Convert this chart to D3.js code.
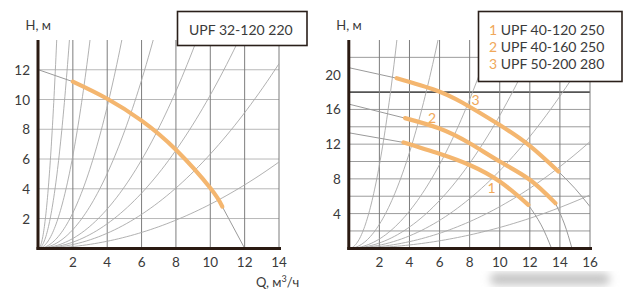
<!DOCTYPE html>
<html>
<head>
<meta charset="utf-8">
<title>UPF pump curves</title>
<script src="https://d3js.org/d3.v7.min.js"></script>
<style>
  body { margin: 0; background: #fff; }
  svg { display: block; }
  text { font-family: Lato, "Noto Sans", sans-serif; fill: #3a3a3a; }
  .vgrid { stroke: #7d7d7d; stroke-width: 1; }
  .hgrid { stroke: #b8b8b8; stroke-width: 1; }
  .sys { fill: none; stroke: #a8a8a8; stroke-width: 0.9; }
  .pumpGray { fill: none; stroke: #9a9a9a; stroke-width: 1; }
  .pump { fill: none; stroke: #f4b66f; stroke-width: 4.2; stroke-linecap: round; }
  .axis { stroke: #2a1a12; stroke-width: 3; }
  .num { fill: #f0a85a; }
</style>
</head>
<body>
<svg width="633" height="301"></svg>
<script>
// ---- left chart data (UPF 32-120 220)
var leftXTicks = [2, 4, 6, 8, 10, 12, 14];
var leftYTicks = [2, 4, 6, 8, 10, 12];
var leftSysK = [12.46, 4.32, 1.556, 0.595, 0.314, 0.165, 0.103, 0.0633, 0.0296];
var leftHead = [[0, 12], [2, 11.2]];
var leftPump = [[2, 11.2], [4, 10.05], [6, 8.58], [8, 6.62], [10, 4.05], [10.7, 2.8]];
var leftTail = [[10.7, 2.8], [12, 0]];
var leftLegend = ["UPF 32-120 220"];

// ---- right chart data
var rightXTicks = [2, 4, 6, 8, 10, 12, 14, 16];
var rightYTicks = [4, 8, 12, 16, 20];
var rightHGrid = [2, 4, 6, 8, 10, 12, 14, 16, 18, 22];
var rightSysK = [2.4, 0.69, 0.268, 0.153, 0.0894, 0.048, 0.024];
var rightNames = ["UPF 40-120 250", "UPF 40-160 250", "UPF 50-200 280"];
var rightHeads = [
  [[0, 13.3], [3.6, 12.2]],
  [[0, 16.6], [3.7, 15.0]],
  [[0, 20.8], [3.15, 19.6]]
];
var rightPumps = [
  [[3.6, 12.2], [6, 10.9], [8, 9.6], [10, 7.7], [11.9, 5.0]],
  [[3.7, 15.0], [6, 13.8], [8, 12.1], [10, 10.0], [12, 7.9], [13.7, 5.2]],
  [[3.15, 19.6], [5.7, 18.25], [7.5, 16.8], [10, 14.2], [12, 11.8], [13.9, 8.85]]
];
var rightTails = [
  [[11.9, 5.0], [12.75, 2.7], [13.44, 0]],
  [[13.7, 5.2], [14.3, 2.8], [14.8, 0]],
  [[13.9, 8.85], [15, 6.9], [16, 4.8]]
];
var rightLabelPos = [[9.45, 7.0], [5.5, 15.0], [8.4, 17.1]];

var svg = d3.select("svg");

var defs = svg.append("defs");
defs.append("filter").attr("id", "blur").append("feGaussianBlur").attr("stdDeviation", 4);
defs.append("clipPath").attr("id", "clipL").append("rect")
  .attr("x", 38.5).attr("y", 40).attr("width", 240.5).attr("height", 208.3);
defs.append("clipPath").attr("id", "clipR").append("rect")
  .attr("x", 349.3).attr("y", 40).attr("width", 240.7).attr("height", 208.3);

function drawChart(o) {
  var x = d3.scaleLinear().domain([0, o.xMax]).range(o.xr);
  var y = d3.scaleLinear().domain([0, o.yMax]).range([248.3, 40]);
  var g = svg.append("g");
  var line = d3.line().x(function(d){ return x(d[0]); }).y(function(d){ return y(d[1]); });
  var smooth = d3.line().curve(d3.curveNatural).x(function(d){ return x(d[0]); }).y(function(d){ return y(d[1]); });

  g.selectAll(".hgrid").data(o.hGrid).enter().append("line")
    .attr("class", "hgrid")
    .attr("x1", x(0)).attr("x2", x(o.xMax))
    .attr("y1", function(d){ return y(d); }).attr("y2", function(d){ return y(d); })
    .style("stroke", function(d){ return d == o.darkLine ? "#555" : o.hColor; })
    .style("stroke-width", function(d){ return d == o.darkLine ? 1.6 : 1; });

  g.selectAll(".vgrid").data(o.xTicks).enter().append("line")
    .attr("class", "vgrid")
    .attr("x1", function(d){ return x(d); }).attr("x2", function(d){ return x(d); })
    .attr("y1", y(o.yMax)).attr("y2", y(0));

  // system curves H = k Q^2
  var cg = g.append("g").attr("clip-path", o.clip);
  cg.selectAll(".sys").data(o.sysK).enter().append("path")
    .attr("class", "sys")
    .attr("d", function(k){
      var qEnd = Math.min(o.xMax, Math.sqrt(o.yMax * 1.05 / k));
      var pts = d3.range(0, 61).map(function(i){ var q = qEnd * i / 60; return [q, k * q * q]; });
      return line(pts);
    });

  cg.selectAll(".head").data(o.heads).enter().append("path")
    .attr("class", "pumpGray").attr("d", line);
  cg.selectAll(".tail").data(o.tails).enter().append("path")
    .attr("class", "pumpGray").attr("d", smooth);
  cg.selectAll(".pump").data(o.pumps).enter().append("path")
    .attr("class", "pump").attr("d", smooth);

  // axes
  g.append("line").attr("class", "axis")
    .attr("x1", x(0) - 0.5).attr("x2", x(0) - 0.5).attr("y1", y(o.yMax)).attr("y2", y(0) + 1.5);
  g.append("line").attr("class", "axis")
    .attr("x1", x(0) - 2).attr("x2", x(o.xMax) + 2).attr("y1", y(0) + 0.3).attr("y2", y(0) + 0.3);

  g.selectAll(".xt").data(o.xTicks).enter().append("text")
    .attr("x", function(d){ return x(d); }).attr("y", 267)
    .attr("text-anchor", "middle").style("font-size", "13.5px")
    .text(function(d){ return d; });
  g.selectAll(".yt").data(o.yTicks).enter().append("text")
    .attr("x", x(0) - 8.5).attr("y", function(d){ return y(d) + 5; })
    .attr("text-anchor", "end").style("font-size", "13.5px")
    .text(function(d){ return d; });

  g.append("text").attr("x", x(0) - 13).attr("y", 30).style("font-size", "13px").text("H, м");
  return { x: x, y: y, g: g };
}

var L = drawChart({
  xMax: 14, yMax: 14, xr: [38.5, 279], xTicks: leftXTicks, yTicks: leftYTicks,
  hGrid: leftYTicks, hColor: "#b8b8b8", sysK: leftSysK, clip: "url(#clipL)",
  heads: [leftHead], tails: [leftTail], pumps: [leftPump]
});
L.g.append("text").attr("x", 256).attr("y", 287).style("font-size", "13px")
  .html('Q, м<tspan dy="-5" style="font-size:9px">3</tspan><tspan dy="5">/ч</tspan>');
L.g.append("rect").attr("x", 177.5).attr("y", 11.5).attr("width", 129.5).attr("height", 34)
  .style("fill", "#fff").style("stroke", "#2a1f1a").style("stroke-width", 1.6);
L.g.selectAll(".lg").data(leftLegend).enter().append("text")
  .attr("x", 189).attr("y", 35).style("font-size", "14px").text(function(d){ return d; });

var R = drawChart({
  xMax: 16, yMax: 24, xr: [349.3, 590], xTicks: rightXTicks, yTicks: rightYTicks,
  hGrid: rightHGrid, hColor: "#9c9c9c", darkLine: 18, sysK: rightSysK, clip: "url(#clipR)",
  heads: rightHeads, tails: rightTails, pumps: rightPumps
});

R.g.selectAll(".cl").data(rightLabelPos).enter().append("text")
  .attr("class", "num").attr("x", function(d){ return R.x(d[0]); })
  .attr("y", function(d){ return R.y(d[1]) + 5; })
  .attr("text-anchor", "middle").style("font-size", "14px")
  .text(function(d, i){ return i + 1; });

// blurred axis title
R.g.append("rect").attr("x", 490).attr("y", 273).attr("width", 120).attr("height", 12).attr("rx", 6)
  .style("fill", "#c4c4c4").attr("filter", "url(#blur)");

R.g.append("rect").attr("x", 478.5).attr("y", 11.5).attr("width", 143.5).attr("height", 70)
  .style("fill", "#fff").style("stroke", "#2a1f1a").style("stroke-width", 1.6);
var lg = R.g.selectAll(".lg").data(rightNames).enter().append("text")
  .attr("x", 489).attr("y", function(d, i){ return 35 + i * 17; }).style("font-size", "14px");
lg.append("tspan").attr("class", "num").text(function(d, i){ return (i + 1) + " "; });
lg.append("tspan").text(function(d){ return d; });
</script>
</body>
</html>
